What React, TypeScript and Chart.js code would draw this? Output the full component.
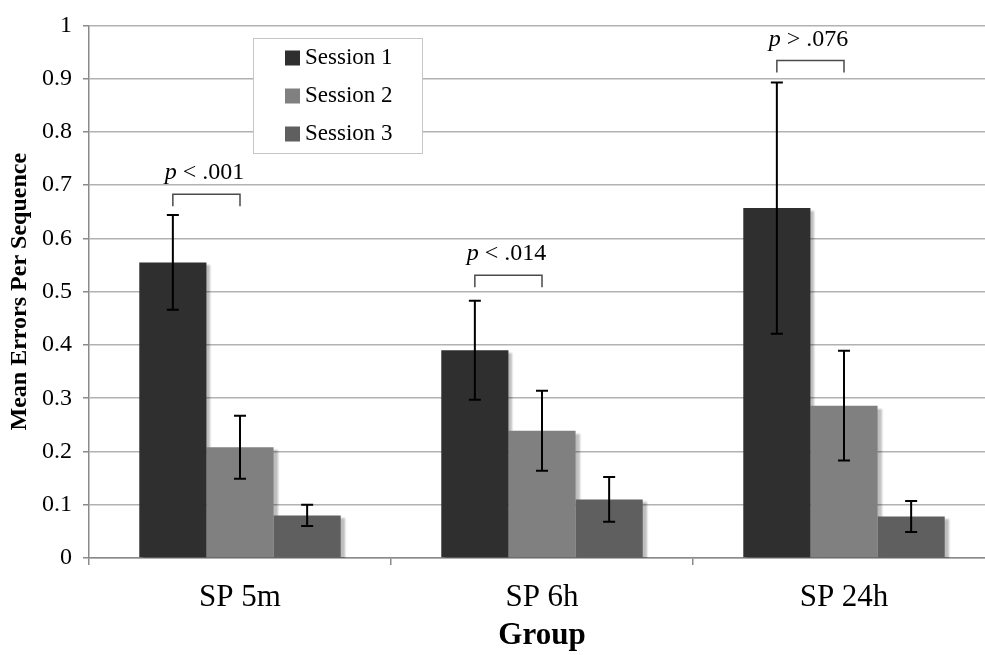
import React, { useEffect, useRef } from 'react';
import { Chart, registerables } from 'chart.js';

Chart.register(...registerables);

const groups = ['SP 5m', 'SP 6h', 'SP 24h'];
const sessionNames = ['Session 1', 'Session 2', 'Session 3'];
const session1 = [0.555, 0.39, 0.657];
const session2 = [0.208, 0.239, 0.286];
const session3 = [0.08, 0.11, 0.078];
const session1Err = [0.089, 0.093, 0.236];
const session2Err = [0.059, 0.075, 0.103];
const session3Err = [0.02, 0.042, 0.029];
const sessionColors = ['#2f2f2f', '#808080', '#5f5f5f'];
const pLabels = ['< .001', '< .014', '> .076'];
const bracketLevels = [0.683, 0.531, 0.934];
const yTickLabels = ['0', '0.1', '0.2', '0.3', '0.4', '0.5', '0.6', '0.7', '0.8', '0.9', '1'];

const serif = '"Liberation Serif", "Times New Roman", Times, serif';
const errors = [session1Err, session2Err, session3Err];

const decor = {
  id: 'decor',
  beforeDatasetsDraw(chart: any) {
    const ctx = chart.ctx;
    const area = chart.chartArea;
    ctx.save();
    ctx.beginPath();
    ctx.rect(area.left, area.top, area.right - area.left, area.bottom - area.top);
    ctx.clip();
    const off = 10000;
    ctx.shadowColor = 'rgba(0,0,0,0.26)';
    ctx.shadowOffsetX = 4 + off;
    ctx.shadowOffsetY = 3;
    ctx.shadowBlur = 2;
    ctx.fillStyle = '#000';
    for (let d = 0; d < 3; d++) {
      const meta = chart.getDatasetMeta(d);
      meta.data.forEach((bar: any) => {
        const w = bar.width;
        const top = Math.min(bar.y, bar.base);
        const h = Math.abs(bar.base - bar.y);
        ctx.fillRect(bar.x - w / 2 - off, top, w, h);
      });
    }
    ctx.restore();
  },
  afterDatasetsDraw(chart: any) {
    const ctx = chart.ctx;
    const yScale = chart.scales.y;
    // error bars
    ctx.save();
    ctx.strokeStyle = '#000';
    ctx.lineWidth = 2;
    for (let d = 0; d < 3; d++) {
      const meta = chart.getDatasetMeta(d);
      const vals = chart.data.datasets[d].data;
      meta.data.forEach((bar: any, i: number) => {
        const v = vals[i];
        const e = errors[d][i];
        const yt = yScale.getPixelForValue(v + e);
        const yb = yScale.getPixelForValue(v - e);
        ctx.beginPath();
        ctx.moveTo(bar.x, yt);
        ctx.lineTo(bar.x, yb);
        ctx.moveTo(bar.x - 6, yt);
        ctx.lineTo(bar.x + 6, yt);
        ctx.moveTo(bar.x - 6, yb);
        ctx.lineTo(bar.x + 6, yb);
        ctx.stroke();
      });
    }
    ctx.restore();
    // brackets + p labels
    ctx.save();
    const m0 = chart.getDatasetMeta(0);
    const m1 = chart.getDatasetMeta(1);
    groups.forEach((_, i) => {
      const x1 = m0.data[i].x;
      const x2 = m1.data[i].x;
      const yt = yScale.getPixelForValue(bracketLevels[i]);
      ctx.strokeStyle = '#4a4a4a';
      ctx.lineWidth = 1.5;
      ctx.beginPath();
      ctx.moveTo(x1, yt + 12);
      ctx.lineTo(x1, yt);
      ctx.lineTo(x2, yt);
      ctx.lineTo(x2, yt + 12);
      ctx.stroke();
      const it = 'italic 24px ' + serif;
      const rm = '24px ' + serif;
      ctx.font = it;
      const w1 = ctx.measureText('p').width;
      ctx.font = rm;
      const rest = ' ' + pLabels[i];
      const w2 = ctx.measureText(rest).width;
      const cx = (x1 + x2) / 2;
      const sx = cx - (w1 + w2) / 2 - 2;
      const by = yt - 15;
      ctx.fillStyle = '#000';
      ctx.textBaseline = 'alphabetic';
      ctx.textAlign = 'left';
      ctx.font = it;
      ctx.fillText('p', sx, by);
      ctx.font = rm;
      ctx.fillText(rest, sx + w1, by);
    });
    ctx.restore();
    // legend
    ctx.save();
    ctx.fillStyle = '#fff';
    ctx.fillRect(253, 38, 169, 115);
    ctx.strokeStyle = '#c6c6c6';
    ctx.lineWidth = 1;
    ctx.strokeRect(253.5, 38.5, 169, 115);
    const rows = [58, 96, 134];
    sessionNames.forEach((name, i) => {
      ctx.fillStyle = sessionColors[i];
      ctx.fillRect(285, rows[i] - 7.5, 15, 15);
      ctx.fillStyle = '#000';
      ctx.font = '23px ' + serif;
      ctx.textBaseline = 'middle';
      ctx.textAlign = 'left';
      ctx.fillText(name, 305, rows[i]);
    });
    ctx.restore();
  },
};

export default function App() {
  const ref = useRef<HTMLCanvasElement | null>(null);
  useEffect(() => {
    if (!ref.current) return;
    const seriesValues = [session1, session2, session3];
    const chart = new Chart(ref.current, {
      type: 'bar',
      data: {
        labels: groups,
        datasets: sessionNames.map((name, i) => ({
          label: name,
          data: seriesValues[i],
          backgroundColor: sessionColors[i],
          borderWidth: 0,
          categoryPercentage: 0.667,
          barPercentage: 1.0,
        })),
      },
      options: {
        responsive: false,
        animation: false,
        devicePixelRatio: 1,
        layout: { padding: { top: 18, right: 5, left: 0, bottom: 0 } },
        plugins: {
          legend: { display: false },
          tooltip: { enabled: false },
        },
        scales: {
          x: {
            grid: { drawOnChartArea: false, drawTicks: true, tickLength: 7, color: '#8a8a8a', lineWidth: 1.5 },
            border: { color: '#8a8a8a', width: 1.5 },
            ticks: { color: '#000', font: { family: serif, size: 31 }, padding: 14 },
            title: { display: true, text: 'Group', color: '#000', font: { family: serif, size: 31, weight: 'bold' }, padding: { top: 0, bottom: 0 } },
            afterFit(scale: any) { scale.height = 97; },
          },
          y: {
            min: 0,
            max: 1,
            grid: { color: '#b2b2b2', lineWidth: 1.5, tickLength: 6, tickColor: '#8a8a8a' },
            border: { color: '#8a8a8a', width: 1.5 },
            ticks: {
              stepSize: 0.1,
              color: '#000',
              font: { family: serif, size: 24 },
              padding: 11,
              callback: (v: any) => yTickLabels[Math.round(Number(v) * 10)],
            },
            title: { display: true, text: 'Mean Errors Per Sequence', color: '#000', font: { family: serif, size: 24, weight: 'bold' }, padding: { top: 5, bottom: 0 } },
            afterFit(scale: any) { scale.width = 89; },
          },
        },
      },
      plugins: [decor],
    } as any);
    return () => chart.destroy();
  }, []);
  return (
    <div style={{ position: 'fixed', left: 0, top: 0, width: 985, height: 655, overflow: 'hidden', background: '#fff' }}>
      <canvas ref={ref} width={1000} height={655} style={{ width: 1000, height: 655, display: 'block' }} />
    </div>
  );
}
